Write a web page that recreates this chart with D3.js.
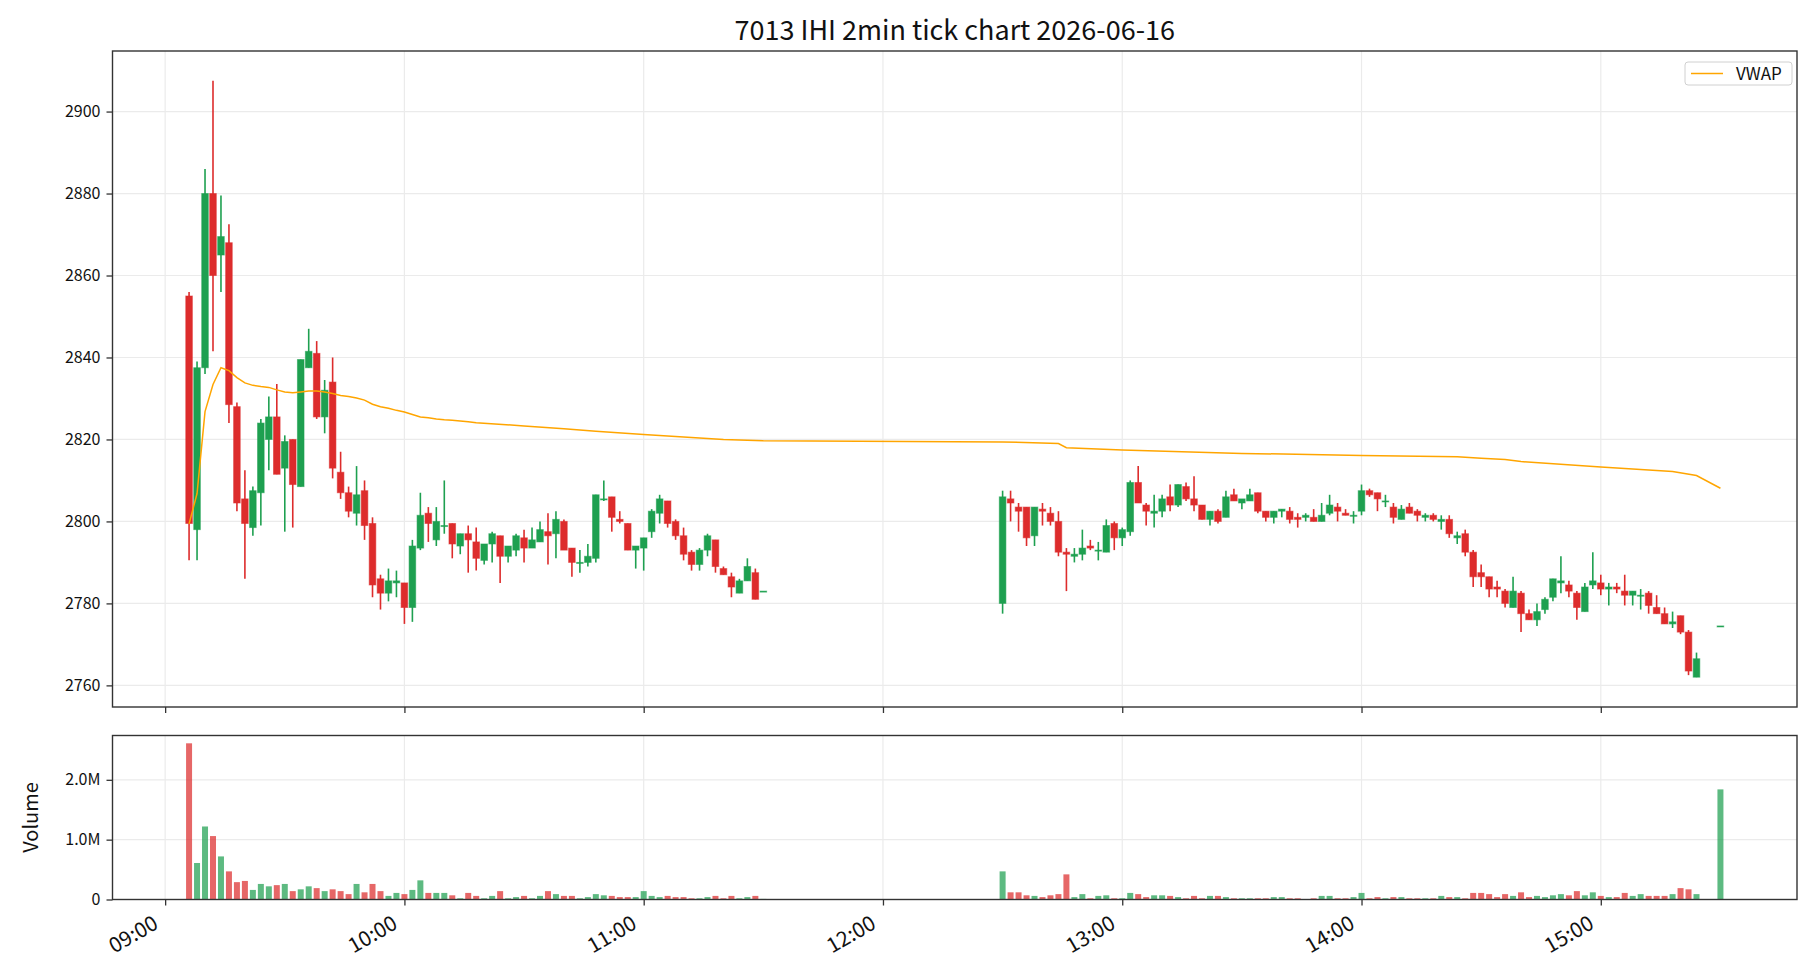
<!DOCTYPE html>
<html>
<head>
<meta charset="utf-8">
<script src="https://cdn.jsdelivr.net/npm/d3@7"></script>
<style>
  body { margin: 0; background: #fff; }
  text { font-family: "Noto Sans CJK JP", "DejaVu Sans", sans-serif; fill: #111; }
</style>
</head>
<body>
<svg width="1820" height="980"></svg>
<script>
// 2-minute bars, morning session then afternoon session
const times = [
  '09:06','09:08','09:10','09:12','09:14','09:16','09:18','09:20','09:22','09:24',
  '09:26','09:28','09:30','09:32','09:34','09:36','09:38','09:40','09:42','09:44',
  '09:46','09:48','09:50','09:52','09:54','09:56','09:58','10:00','10:02','10:04',
  '10:06','10:08','10:10','10:12','10:14','10:16','10:18','10:20','10:22','10:24',
  '10:26','10:28','10:30','10:32','10:34','10:36','10:38','10:40','10:42','10:44',
  '10:46','10:48','10:50','10:52','10:54','10:56','10:58','11:00','11:02','11:04',
  '11:06','11:08','11:10','11:12','11:14','11:16','11:18','11:20','11:22','11:24',
  '11:26','11:28','11:30',
  '12:30','12:32','12:34','12:36','12:38','12:40','12:42','12:44','12:46','12:48',
  '12:50','12:52','12:54','12:56','12:58','13:00','13:02','13:04','13:06','13:08',
  '13:10','13:12','13:14','13:16','13:18','13:20','13:22','13:24','13:26','13:28',
  '13:30','13:32','13:34','13:36','13:38','13:40','13:42','13:44','13:46','13:48',
  '13:50','13:52','13:54','13:56','13:58','14:00','14:02','14:04','14:06','14:08',
  '14:10','14:12','14:14','14:16','14:18','14:20','14:22','14:24','14:26','14:28',
  '14:30','14:32','14:34','14:36','14:38','14:40','14:42','14:44','14:46','14:48',
  '14:50','14:52','14:54','14:56','14:58','15:00','15:02','15:04','15:06','15:08',
  '15:10','15:12','15:14','15:16','15:18','15:20','15:22','15:24','15:30'
];

const opens = [
  2855,2798,2837.5,2880,2865,2868,2828,2805.5,2798.5,2807,
  2820,2825.5,2813,2820,2808.5,2837.5,2841,2825.5,2834,2812,
  2807,2802,2807.5,2799.5,2786,2782.5,2785,2785,2779,2793.5,
  2802,2795.5,2799,2799.5,2794,2797,2795,2790.5,2794.5,2796.5,
  2791.5,2793,2796,2793.5,2795,2797.5,2797,2800,2793.5,2790,
  2790,2791,2805.5,2806,2800.5,2799.5,2793,2793.5,2797.5,2802,
  2805,2800,2796.5,2792.5,2789.5,2793,2795.5,2788.5,2786.5,2782.5,
  2785.5,2787.5,2783,
  2780,2805.5,2803.5,2803.5,2796.5,2803,2802,2800,2792.5,2791.5,
  2792,2794,2793,2792.5,2799.5,2796,2797.5,2809.5,2804,2802,
  2802.5,2806,2804,2808.5,2805.5,2804,2800.5,2802.5,2801,2806.5,
  2804.5,2805,2807,2802.5,2801,2802.5,2802.5,2801,2801,2801,
  2800,2802,2803.5,2802,2801.5,2802.5,2807.5,2807,2805,2803.5,
  2800.5,2803.5,2802.5,2801,2801.5,2800,2800.5,2796,2797,2792.5,
  2787.5,2786.5,2784,2783,2779,2782.5,2777.5,2776,2778.5,2781.5,
  2785,2784.5,2782.5,2778,2784.5,2785,2783.5,2784,2783,2782,
  2782,2782.5,2779,2777.5,2775,2777,2773,2762,2774.5
];

const highs = [
  2856,2839,2886,2907.5,2879.5,2872.5,2829,2812.5,2808.5,2825,
  2830.5,2833.5,2821,2820,2839.5,2847,2844,2834.5,2840,2817,
  2808.5,2813.5,2810,2801,2787,2788.5,2788,2785,2795.5,2807,
  2803.5,2803.5,2810,2799.5,2797,2799,2798.5,2794.5,2797.5,2796.5,
  2794,2797,2798,2798.5,2800,2802,2802.5,2800.5,2793.5,2793,
  2794.5,2806.5,2810,2806,2802.5,2799.5,2794,2796,2803,2806.5,
  2805,2800.5,2798.5,2793,2793.5,2797,2795.5,2789,2787.5,2786,
  2791,2788.5,2783,
  2807.5,2807.5,2804.5,2803.5,2803.5,2804.5,2803.5,2802.5,2793.5,2793.5,
  2798,2795.5,2795,2800.5,2800,2798.5,2810,2813.5,2804.5,2806.5,
  2806.5,2809,2809,2809.5,2811,2804,2802.5,2803,2807.5,2808,
  2805.5,2808,2807,2802.5,2802.5,2803,2803.5,2802,2802,2803,
  2804.5,2806.5,2804.5,2803,2802.5,2809,2808,2807,2806.5,2804.5,
  2804,2804.5,2803,2802,2802,2801.5,2801.5,2797.5,2798,2793,
  2789.5,2786.5,2785.5,2783.5,2786.5,2783,2778.5,2780,2781.5,2786,
  2791.5,2785.5,2783,2785,2792.5,2787,2785,2785,2787,2783,
  2783.5,2783,2782,2779,2778,2777,2773.5,2768,2774.5
];

const lows = [
  2790.5,2790.5,2836,2841.5,2856,2824,2802.5,2786,2796.5,2799,
  2812.5,2811.5,2797.5,2798.5,2808.5,2837.5,2825,2821.5,2810.5,2805.5,
  2801,2799,2795.5,2781.5,2778.5,2780.5,2781.5,2775,2775.5,2793,
  2795,2794,2797,2791,2792,2787.5,2788,2789.5,2790,2785,
  2790,2791.5,2790,2793.5,2795,2789.5,2791,2793,2786.5,2787.5,
  2789,2790,2805,2797.5,2799.5,2793,2788.5,2788,2796,2799.5,
  2798.5,2795.5,2790.5,2788,2788,2791.5,2787.5,2787,2781.5,2782.5,
  2785.5,2781,2783,
  2777.5,2800,2797.5,2794,2794,2799,2799,2791.5,2783,2790,
  2790.5,2793,2790.5,2792.5,2793,2794,2796.5,2804.5,2799,2798.5,
  2801,2802.5,2803.5,2805,2802.5,2800.5,2799,2799.5,2801,2805,
  2803,2805,2802,2800,2799.5,2801,2799.5,2798.5,2800,2800,
  2800,2801.5,2800,2801.5,2799.5,2801.5,2806,2802.5,2803.5,2799.5,
  2800.5,2802,2800,2800,2800,2798,2796,2794.5,2791.5,2784,
  2784,2781.5,2781.5,2779,2779,2773,2776,2774.5,2777.5,2780.5,
  2782.5,2781.5,2776,2778,2783.5,2782,2779.5,2782.5,2779.5,2779.5,
  2778.5,2777.5,2777.5,2775,2774,2772.5,2762.5,2762,2774.5
];

const closes = [
  2799.5,2837.5,2880,2860,2869.5,2828.5,2804.5,2799.5,2807.5,2824,
  2825.5,2811.5,2819.5,2809,2839.5,2841.5,2825.5,2832,2813,2807,
  2802.5,2806.5,2799,2784.5,2782.5,2785.5,2785.5,2779,2794,2801.5,
  2799.5,2800,2799,2794.5,2797,2795.5,2791,2794.5,2797,2791.5,
  2794,2796.5,2793.5,2795.5,2798,2796.5,2800.5,2793,2790,2790,
  2791.5,2806.5,2805.5,2801,2800,2793,2794,2796,2802.5,2805.5,
  2799.5,2796.5,2792,2789.5,2793,2796.5,2789,2787,2784,2785.5,
  2789,2781,2783,
  2806,2804.5,2802.5,2796,2803.5,2802.5,2800,2792.5,2792,2792,
  2793.5,2793.5,2793,2799,2796,2798,2809.5,2804.5,2802.5,2802.5,
  2805.5,2804,2809,2805.5,2804,2800.5,2802.5,2800,2806,2805,
  2805.5,2806.5,2802.5,2801,2802.5,2803,2800.5,2800.5,2801.5,2800,
  2801.5,2804,2802.5,2801.5,2801.5,2807.5,2806.5,2805.5,2805,2801,
  2803,2802,2801.5,2801.5,2800.5,2800.5,2797,2796.5,2792.5,2786.5,
  2786.5,2783.5,2783.5,2780,2783,2777.5,2776,2778,2781,2786,
  2785.5,2783,2779,2784,2785.5,2783.5,2784,2783.5,2782,2783,
  2782,2779.5,2777.5,2775,2775.5,2773,2763.5,2766.5,2774.5
];

// volume in millions of shares
const volumes = [
  2.61,0.61,1.22,1.06,0.72,0.47,0.29,0.31,0.16,0.26,
  0.22,0.24,0.26,0.14,0.17,0.22,0.19,0.14,0.17,0.14,
  0.09,0.26,0.12,0.26,0.14,0.06,0.11,0.09,0.16,0.32,
  0.11,0.11,0.11,0.07,0.02,0.11,0.06,0.02,0.06,0.14,
  0.02,0.04,0.06,0.02,0.06,0.14,0.09,0.06,0.06,0.02,
  0.04,0.09,0.07,0.06,0.04,0.04,0.04,0.14,0.06,0.04,
  0.06,0.04,0.04,0.02,0.02,0.04,0.06,0.02,0.06,0.02,
  0.04,0.06,0.01,
  0.47,0.12,0.12,0.07,0.06,0.04,0.07,0.09,0.42,0.04,
  0.09,0.02,0.06,0.07,0.02,0.02,0.11,0.09,0.04,0.07,
  0.07,0.06,0.04,0.02,0.06,0.02,0.06,0.06,0.04,0.02,
  0.02,0.02,0.02,0.02,0.04,0.04,0.02,0.02,0.005,0.02,
  0.06,0.06,0.02,0.02,0.04,0.11,0.02,0.04,0.02,0.04,
  0.04,0.02,0.02,0.02,0.02,0.06,0.04,0.04,0.02,0.11,
  0.11,0.09,0.04,0.09,0.06,0.12,0.04,0.06,0.04,0.07,
  0.09,0.07,0.14,0.07,0.12,0.06,0.04,0.04,0.11,0.06,
  0.09,0.06,0.06,0.06,0.09,0.19,0.17,0.09,1.84
];

// VWAP line
const vwapTimes = [
  '09:06','09:08','09:10','09:12','09:14','09:16','09:18','09:20','09:22','09:24',
  '09:26','09:28','09:30','09:32','09:34','09:36','09:38','09:40','09:42','09:44',
  '09:46','09:48','09:50','09:52','09:54','09:56','09:58','10:00','10:02','10:04',
  '10:06','10:08','10:10','10:12','10:14','10:16','10:18','10:30','10:40','10:48',
  '11:00','11:10','11:20','11:30','12:30','12:44','12:46','13:00','13:30','14:00',
  '14:24','14:30','14:36','14:40','15:00','15:18','15:24','15:30'
];
const vwapValues = [
  2799.4,2806.8,2826.8,2833.4,2837.5,2836.8,2835.1,2833.8,2833.2,2832.9,
  2832.7,2832.1,2831.6,2831.4,2831.6,2831.8,2831.8,2831.6,2831.2,2830.7,
  2830.5,2830.1,2829.6,2828.6,2828.0,2827.6,2827.1,2826.7,2826.1,2825.5,
  2825.3,2825.0,2824.8,2824.7,2824.5,2824.3,2824.1,2823.3,2822.6,2822.0,
  2821.2,2820.6,2820.0,2819.7,2819.4,2819.0,2818.0,2817.4,2816.6,2816.1,
  2815.8,2815.4,2815.1,2814.6,2813.3,2812.2,2811.2,2808.1
];

const parseTime = d3.timeParse('%H:%M');
const data = times.map((t, i) => ({
  t: parseTime(t), o: opens[i], h: highs[i], l: lows[i], c: closes[i], v: volumes[i] * 1e6
}));
const vwap = vwapTimes.map((t, i) => ({ t: parseTime(t), v: vwapValues[i] }));

const red = '#dd2c2c', green = '#1ea050';
const col = d => d.c >= d.o ? green : red;

const left = 112.5, right = 1797;
const pTop = 51, pBot = 707, vTop = 735.5, vBot = 899.5;

const svg = d3.select('svg');

const tExt = d3.extent(data, d => d.t);
const tPad = (tExt[1] - tExt[0]) * 0.05;
const xscale = d3.scaleTime()
  .domain([new Date(+tExt[0] - tPad), new Date(+tExt[1] + tPad)])
  .range([left, right]);

const lo = d3.min(data, d => d.l), hi = d3.max(data, d => d.h);
const yscale = d3.scaleLinear()
  .domain([lo - (hi - lo) * 0.05, hi + (hi - lo) * 0.05])
  .range([pBot, pTop]);

const vscale = d3.scaleLinear()
  .domain([0, d3.max(data, d => d.v) * 1.05])
  .range([vBot, vTop]);

const hourTicks = xscale.ticks(d3.timeHour.every(1));
const priceTicks = d3.range(2760, 2901, 20);
const volTicks = [0, 1e6, 2e6];

// grids
const grid = svg.append('g').attr('stroke', '#ebebeb').attr('stroke-width', 1.2);
[[pTop, pBot], [vTop, vBot]].forEach(([a, b]) => {
  grid.selectAll(null).data(hourTicks).join('line')
    .attr('x1', d => xscale(d)).attr('x2', d => xscale(d))
    .attr('y1', a).attr('y2', b);
});
grid.selectAll(null).data(priceTicks).join('line')
  .attr('x1', left).attr('x2', right)
  .attr('y1', d => yscale(d)).attr('y2', d => yscale(d));
grid.selectAll(null).data(volTicks.slice(1)).join('line')
  .attr('x1', left).attr('x2', right)
  .attr('y1', d => vscale(d)).attr('y2', d => vscale(d));

// candles
const cw = 6.6;
const candles = svg.append('g').selectAll('g').data(data).join('g');
candles.append('line')
  .attr('x1', d => xscale(d.t)).attr('x2', d => xscale(d.t))
  .attr('y1', d => yscale(d.h)).attr('y2', d => yscale(d.l))
  .attr('stroke', col).attr('stroke-width', 1.6);
candles.append('rect')
  .attr('x', d => xscale(d.t) - cw / 2)
  .attr('width', cw)
  .attr('y', d => yscale(Math.max(d.o, d.c)))
  .attr('height', d => Math.max(1, yscale(Math.min(d.o, d.c)) - yscale(Math.max(d.o, d.c))))
  .attr('fill', col)
  .attr('stroke', col).attr('stroke-opacity', 0.55).attr('stroke-width', 1);

// vwap
svg.append('path')
  .datum(vwap)
  .attr('fill', 'none')
  .attr('stroke', '#ffa500')
  .attr('stroke-width', 1.5)
  .attr('d', d3.line().x(d => xscale(d.t)).y(d => yscale(d.v)));

// volume bars
const bw = 6;
svg.append('g').selectAll('rect').data(data).join('rect')
  .attr('x', d => xscale(d.t) - bw / 2)
  .attr('width', bw)
  .attr('y', d => vscale(d.v))
  .attr('height', d => vBot - vscale(d.v))
  .attr('fill', col)
  .attr('fill-opacity', 0.72);

// frames
[[pTop, pBot], [vTop, vBot]].forEach(([a, b]) => {
  svg.append('rect')
    .attr('x', left).attr('y', a)
    .attr('width', right - left).attr('height', b - a)
    .attr('fill', 'none').attr('stroke', '#333').attr('stroke-width', 1.4);
});

// axes
const styleAxis = size => g => {
  g.select('.domain').remove();
  g.selectAll('.tick line').attr('stroke', '#333').attr('stroke-width', 1.3);
  g.selectAll('.tick text').attr('font-size', size).attr('fill', '#111')
    .attr('font-family', '"Noto Sans CJK JP", "DejaVu Sans", sans-serif');
};

svg.append('g')
  .attr('transform', `translate(${left},0)`)
  .call(d3.axisLeft(yscale).tickValues(priceTicks).tickSize(6).tickPadding(6)
    .tickFormat(d3.format('d')))
  .call(styleAxis(16));

svg.append('g')
  .attr('transform', `translate(${left},0)`)
  .call(d3.axisLeft(vscale).tickValues(volTicks).tickSize(6).tickPadding(6)
    .tickFormat(v => v === 0 ? '0' : (v / 1e6).toFixed(1) + 'M'))
  .call(styleAxis(16));

svg.append('g')
  .attr('transform', `translate(0,${pBot})`)
  .call(d3.axisBottom(xscale).tickValues(hourTicks).tickSize(6).tickFormat(''))
  .call(styleAxis(16));

const xAxisG = svg.append('g')
  .attr('transform', `translate(0,${vBot})`)
  .call(d3.axisBottom(xscale).tickValues(hourTicks).tickSize(6).tickFormat(d3.timeFormat('%H:%M')))
  .call(styleAxis(21));
xAxisG.selectAll('.tick text')
  .attr('text-anchor', 'end')
  .attr('y', 0).attr('dy', 0)
  .attr('transform', 'translate(-6,28) rotate(-30)');

// labels
svg.append('text')
  .attr('x', (left + right) / 2).attr('y', 39.5)
  .attr('text-anchor', 'middle')
  .attr('font-size', 27)
  .text('7013 IHI 2min tick chart 2026-06-16');

svg.append('text')
  .attr('transform', `translate(37.5,${(vTop + vBot) / 2}) rotate(-90)`)
  .attr('text-anchor', 'middle')
  .attr('font-size', 20)
  .text('Volume');

// legend
const lg = svg.append('g').attr('transform', 'translate(1685,62)');
lg.append('rect')
  .attr('width', 107).attr('height', 23).attr('rx', 3)
  .attr('fill', '#fff').attr('fill-opacity', 0.8)
  .attr('stroke', '#d0d0d0');
lg.append('line')
  .attr('x1', 6).attr('x2', 38).attr('y1', 11.5).attr('y2', 11.5)
  .attr('stroke', '#ffa500').attr('stroke-width', 1.5);
lg.append('text')
  .attr('x', 51).attr('y', 17.5)
  .attr('font-size', 17)
  .text('VWAP');
</script>
</body>
</html>
